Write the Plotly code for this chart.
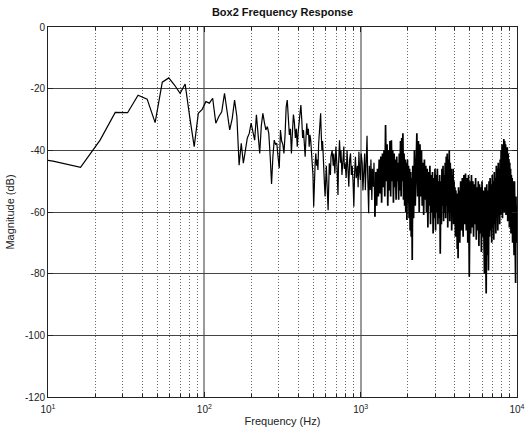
import plotly.graph_objects as go
import numpy as np

# FFT settings (bin index -> frequency in Hz)
FS = 44100
NFFT = 8192

# ---- Data (bin index, magnitude in dB) ----
bins_low = [1, 2, 3, 4, 5, 6, 7, 8, 9, 10, 11, 12, 13, 14, 15, 16, 17, 18, 19, 20,
            21, 22, 23, 24, 25, 26, 27, 28, 29, 30, 31, 32, 33, 34, 35, 36, 37, 38, 39, 40,
            41, 42, 43, 44, 45, 46, 47, 48, 49, 50, 51, 52, 53, 54, 55, 56, 57, 58, 59, 60, 61]
mag_low = [-41, -43.5, -45.5, -36.7, -27.7, -27.8, -22.1, -23.4, -31.0, -17.9, -16.5, -18.9,
           -21.5, -18.5, -29.4, -38.8, -28.0, -26.7, -24.2, -24.7, -23.1, -31.2, -29, -27.5,
           -21.5, -27, -33.4, -29.7, -23.7, -29.1, -44.8, -37.7, -44.2, -40, -36, -34.5, -31.2,
           -34, -36.7, -28.5, -34, -41, -32, -28, -31, -33.4, -32.3, -34.5, -42, -50.9, -42,
           -36.7, -38, -37.7, -42, -45.8, -33.4, -37, -38, -41, -35]

bins_mid = [62, 63, 64, 65, 66, 67, 68, 69, 70, 71, 72, 73, 74, 75, 76, 77, 78, 79, 80, 81,
            82, 83, 84, 85, 86, 87, 88, 89, 90, 91, 92, 93, 94, 95, 96, 97, 98, 99, 100, 101,
            102, 103, 104, 105, 106, 107, 108, 109, 110, 112, 113, 115, 117, 119, 120, 122,
            124, 125, 127, 129, 131, 133, 134, 136, 138, 139, 141, 143, 145, 146, 148, 150,
            152, 154, 156, 158, 160, 162, 164, 166, 168, 170, 172, 174, 177, 179, 181, 183,
            185, 187, 190, 192, 195, 197, 199, 202, 204, 206, 209, 211, 214, 216, 219, 221,
            224, 226, 229]
mag_mid = [-26, -23.7, -29, -35, -33, -41, -34, -28.4, -31, -36, -33, -38.8, -34, -30, -28,
           -25.3, -30, -36, -33.4, -37, -42.1, -36, -31.2, -35, -33, -38.8, -35, -36.7, -40,
           -42.1, -48, -58.3, -47, -44, -41, -45, -43, -46.4, -38, -33, -30, -28, -35, -40,
           -37, -43.5, -47, -51, -55, -45, -50, -59.4, -44.2, -48, -42, -40, -45, -41, -47.5,
           -38.8, -45, -54.5, -45, -36.7, -44, -40, -48, -42, -38.8, -46, -44.2, -49, -40,
           -46, -51.8, -43, -41, -48, -45, -50, -58.3, -47, -42.1, -49, -45, -52, -40.5, -47,
           -49.6, -41, -44.2, -53, -47.5, -41, -52.9, -44, -35.3, -48, -60.4, -45, -52.9, -43,
           -56.1, -46, -51.8, -44, -61.5]

bins_c1 = [232, 235, 238, 241, 244, 247, 250, 253, 256, 259, 262, 265, 268, 271, 274, 277,
           280, 283, 286, 289, 292, 295, 298, 301, 304, 307, 310, 313, 316, 319, 322, 325,
           328, 331, 334, 337, 340, 343, 346, 349, 352, 355, 358, 361, 364, 367, 370, 373,
           376, 379, 382, 385, 388, 391, 394, 397, 400]
mag_c1 = [-47, -58, -46, -55, -43, -54, -42, -57, -41, -52, -40, -55, -31.8, -50, -38, -58,
          -40, -53, -37, -55, -36.7, -50, -40, -57, -41, -52, -43, -56, -42, -50, -44, -56,
          -41, -53, -37, -55, -36, -50, -34.5, -56, -41, -58, -43, -60, -44, -62.6, -43, -57,
          -45, -62, -46, -66, -47, -68, -49, -75.6, -45]

bins_c2 = [405, 410, 415, 420, 425, 430, 435, 440, 445, 450, 455, 460, 465, 470, 475, 480,
           485, 490, 495, 500, 505, 510, 515, 520, 525, 530, 535, 540, 545, 550, 555, 560,
           565, 570, 575, 580, 585, 590, 595, 600, 605, 610, 615, 620, 625, 630, 635, 640,
           645, 650, 655, 660, 665, 670, 675, 680, 685, 690, 695, 700, 705, 710, 715, 720,
           725, 730, 735, 740, 745, 750, 755, 760, 765, 770, 775, 780, 785, 790, 795, 800]
mag_c2 = [-62, -40, -58, -36, -34.5, -55, -37, -60, -38, -55, -40, -58, -44, -61, -43, -56,
          -45, -60, -46, -65, -47, -58, -45, -64, -48, -60, -47, -67, -49, -62, -46, -66,
          -48, -60, -46, -64, -50, -62, -48, -73.5, -50, -64, -46, -58, -45, -63, -48, -60,
          -44, -62, -42, -58, -41, -65, -43, -60, -40, -63, -44, -58, -46, -66, -48, -60,
          -46, -64, -50, -61, -52, -68, -53, -64, -55, -72, -54, -75, -52, -66, -53, -70]

bins_c3 = [810, 820, 830, 840, 850, 860, 870, 880, 890, 900, 910, 920, 930, 940, 950, 960,
           970, 980, 990, 1000, 1010, 1020, 1030, 1040, 1050, 1060, 1070, 1080, 1090, 1100,
           1110, 1120, 1130, 1140, 1150, 1160, 1170, 1180, 1190, 1200, 1210, 1220, 1230, 1240,
           1250, 1260, 1270, 1280, 1290, 1300, 1310, 1320, 1330, 1340, 1350, 1360, 1370, 1380,
           1390, 1400, 1410, 1420, 1430, 1440, 1450, 1460, 1470, 1480, 1490, 1500, 1510, 1520,
           1530, 1540, 1550, 1560, 1570, 1580, 1590, 1600, 1610, 1620, 1630, 1640, 1650, 1660,
           1670, 1680, 1690, 1700, 1710, 1720, 1730, 1740, 1750, 1760, 1770, 1780, 1790, 1800,
           1810, 1820, 1830, 1840, 1850, 1860]
mag_c3 = [-50, -66, -49, -68, -48, -64, -47.5, -66, -49, -70, -48, -81, -50, -67, -48, -65,
          -50, -68, -51, -64, -49, -69, -52, -66, -50, -71, -51, -67, -52, -73, -50, -68,
          -53, -72, -80, -52, -70, -86.4, -51, -74, -53, -79, -50, -68, -49, -66, -51, -70,
          -48, -65, -50, -69, -47, -64, -49, -67, -45, -62, -46, -66, -44, -60, -46, -64,
          -43, -61, -40, -58, -38, -62, -39, -57, -36.3, -60, -37, -55, -38, -61, -40, -58,
          -39, -63, -41, -60, -43, -65, -44, -62, -46, -67, -48, -64, -49, -70, -50, -68,
          -51, -74, -50, -72, -52, -83, -55, -70, -58, -62]

x_tick_vals = [10, 100, 1000, 10000]
x_tick_text = ["10<sup>1</sup>", "10<sup>2</sup>", "10<sup>3</sup>", "10<sup>4</sup>"]
y_tick_vals = [-120, -100, -80, -60, -40, -20, 0]
y_tick_text = ["-120", "-100", "-80", "-60", "-40", "-20", "0"]

# sparse (lower-frequency) part and dense (high-frequency) part of the same curve
bins_a = np.array(bins_low + bins_mid, dtype=float)
mags_a = np.array(mag_low + mag_mid, dtype=float)
bins_b = np.array(bins_mid[-1:] + bins_c1 + bins_c2 + bins_c3, dtype=float)
mags_b = np.array(mag_mid[-1:] + mag_c1 + mag_c2 + mag_c3, dtype=float)

FONT = "Arial, Liberation Sans, Helvetica, sans-serif"

fig = go.Figure()
fig.add_trace(go.Scatter(x=bins_a * FS / NFFT, y=mags_a, mode="lines",
                         line=dict(color="black", width=1.2),
                         showlegend=False, hoverinfo="skip"))
fig.add_trace(go.Scatter(x=bins_b * FS / NFFT, y=mags_b, mode="lines",
                         line=dict(color="black", width=1.7),
                         showlegend=False, hoverinfo="skip"))

fig.update_layout(
    width=525, height=432,
    margin=dict(l=48, r=8, t=27, b=35, autoexpand=False),
    paper_bgcolor="white", plot_bgcolor="white",
    font=dict(family=FONT, size=10, color="#222"),
    hovermode=False,
    title=dict(text="<b>Box2 Frequency Response</b>", x=0.5, xref="paper",
               y=1 - 12 / 432, yref="container", yanchor="middle", xanchor="center",
               font=dict(family=FONT, size=11, color="#111"), automargin=False),
)

fig.update_xaxes(
    type="log", range=[1, 4], automargin=False,
    tickmode="array", tickvals=x_tick_vals, ticktext=x_tick_text,
    ticks="inside", ticklen=5, tickcolor="#222",
    showline=True, linecolor="#222", linewidth=1, mirror="ticks",
    showgrid=True, gridcolor="#9a9a9a", gridwidth=2,
    minor=dict(dtick="D1", showgrid=True, griddash="1px,2px", gridcolor="#666",
               gridwidth=1, ticks="inside", ticklen=3, tickcolor="#222"),
    ticklabelstandoff=3,
    title=dict(text="Frequency (Hz)", font=dict(family=FONT, size=11, color="#222"), standoff=3),
    zeroline=False,
)
fig.update_yaxes(
    range=[-120, 0], automargin=False,
    tickmode="array", tickvals=y_tick_vals, ticktext=y_tick_text,
    ticks="inside", ticklen=5, tickcolor="#222",
    showline=True, linecolor="#222", linewidth=1, mirror="ticks",
    showgrid=True, gridcolor="#444", gridwidth=1,
    title=dict(text="Magnitude (dB)", font=dict(family=FONT, size=11, color="#222"), standoff=8),
    zeroline=False,
)

fig.write_html("out.html",
               config={"displayModeBar": False, "staticPlot": True},
               post_script="document.body.style.margin='0';document.body.style.overflow='hidden';")
